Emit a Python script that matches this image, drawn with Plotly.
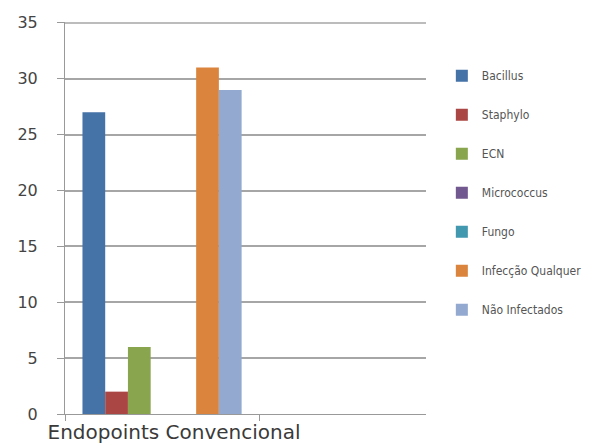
import plotly.graph_objects as go

# Categories on the x axis (second slot left empty)
categories = ["Endopoints Convencional", " "]

series_names = ["Bacillus", "Staphylo", "ECN", "Micrococcus", "Fungo",
                "Infecção Qualquer", "Não Infectados"]
series_values = [27, 2, 6, 0, 0, 31, 29]
series_colors = ["#4572A7", "#AA4643", "#89A54E", "#71588F", "#4198AF",
                 "#DB843D", "#93A9CF"]

y_ticks = [0, 5, 10, 15, 20, 25, 30, 35]
y_max = 35

fig = go.Figure()
for i, (name, val, col) in enumerate(zip(series_names, series_values, series_colors)):
    fig.add_trace(go.Bar(
        x=[categories[0]], y=[val], name=name,
        marker=dict(color=col, line=dict(width=0)),
        legendgroup=f"g{i}",
    ))

# gridline along the top of the value range
fig.add_shape(type="line", xref="paper", yref="y", x0=0, x1=1, y0=y_max, y1=y_max,
              line=dict(color="#a6a6a6", width=1.5), layer="below")

fig.update_layout(
    width=598, height=446,
    margin=dict(l=65, r=171, t=22, b=32),
    paper_bgcolor="white", plot_bgcolor="white",
    barmode="group", bargap=0.18, bargroupgap=0,
    showlegend=True,
    legend=dict(
        x=1.041, xanchor="left", y=0.90, yanchor="top",
        font=dict(family="DejaVu Sans Condensed, Liberation Sans Narrow, sans-serif",
                  size=12, color="#555555"),
        tracegroupgap=20, itemwidth=30,
        bgcolor="rgba(0,0,0,0)",
    ),
    xaxis=dict(
        type="category", categoryorder="array", categoryarray=categories,
        range=[-0.5, 1.36], tickson="boundaries",
        ticks="outside", ticklen=6, tickcolor="#999999",
        showline=True, linecolor="#999999", linewidth=1,
        showgrid=False, tickangle=0, automargin=False,
        ticklabelshift=12,
        tickfont=dict(family="DejaVu Sans", size=20, color="#3a3a3a"),
    ),
    yaxis=dict(
        range=[0, 35.08], tickvals=y_ticks, automargin=False,
        showgrid=True, gridcolor="#a6a6a6", gridwidth=1.5,
        showline=True, linecolor="#999999", linewidth=1,
        ticks="outside", ticklen=7, tickcolor="#999999",
        ticklabelstandoff=16,
        zeroline=False,
        tickfont=dict(family="DejaVu Sans", size=16, color="#444444"),
    ),
)

fig.write_html("out.html")
